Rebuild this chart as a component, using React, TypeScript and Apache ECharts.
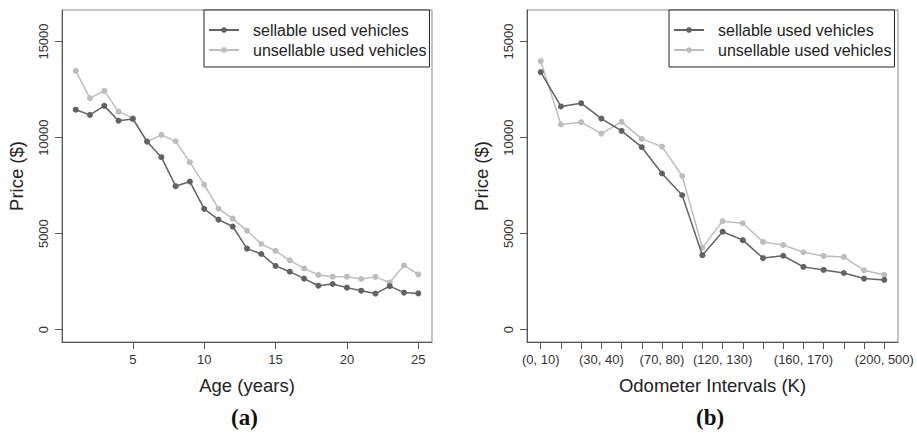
import React, { useEffect, useRef } from "react";
import * as echarts from "echarts";

const ageYears = [1, 2, 3, 4, 5, 6, 7, 8, 9, 10, 11, 12, 13, 14, 15, 16, 17, 18, 19, 20, 21, 22, 23, 24, 25];
const ageSellable = [11450, 11180, 11650, 10880, 10970, 9790, 8980, 7470, 7710, 6290, 5730, 5370, 4220, 3940, 3320, 3020, 2660, 2290, 2380, 2190, 2030, 1880, 2270, 1930, 1890];
const ageUnsellable = [13470, 12050, 12430, 11350, 11010, 9790, 10140, 9810, 8720, 7550, 6300, 5780, 5160, 4460, 4100, 3610, 3190, 2850, 2760, 2760, 2640, 2750, 2460, 3350, 2880];
const ageTicks = [5, 10, 15, 20, 25];

const odomIntervals = [
  "(0, 10)", "(10, 20)", "(20, 30)", "(30, 40)", "(40, 50)", "(50, 70)", "(70, 80)", "(80, 100)", "(100, 120)",
  "(120, 130)", "(130, 140)", "(140, 150)", "(150, 160)", "(160, 170)", "(170, 180)", "(180, 190)", "(190, 200)", "(200, 500)",
];
const odomSellable = [13410, 11620, 11790, 10990, 10350, 9500, 8130, 7000, 3880, 5100, 4660, 3730, 3850, 3270, 3110, 2950, 2660, 2590];
const odomUnsellable = [13980, 10680, 10800, 10210, 10820, 9930, 9530, 8000, 4270, 5650, 5540, 4570, 4410, 4030, 3840, 3790, 3090, 2850];
const odomLabelIdx = [0, 3, 6, 9, 13, 17];

const priceTicks = [0, 5000, 10000, 15000];
const seriesNames = ["sellable used vehicles", "unsellable used vehicles"];

const DARK = "#626262";
const LIGHT = "#bdbdbd";
const FONT = "'Liberation Sans', Arial, sans-serif";

export default function App() {
  const ref = useRef<HTMLDivElement>(null);
  useEffect(() => {
    if (!ref.current) return;
    const chart = echarts.init(ref.current, undefined, { renderer: "svg" });

    const yAxisBase = (gridIndex: number) => ({
      type: "value",
      gridIndex,
      min: -640,
      max: 16640,
      name: "Price ($)",
      nameLocation: "middle",
      nameGap: 36,
      nameTextStyle: { fontFamily: FONT, fontSize: 18.5, color: "#222" },
      splitLine: { show: false },
      axisLine: { show: true, onZero: false, lineStyle: { color: "#555", width: 1 } },
      axisTick: { show: true, inside: false, length: 7, customValues: priceTicks, lineStyle: { color: "#555" } },
      axisLabel: {
        show: true,
        customValues: priceTicks,
        formatter: (v: number) => String(v),
        rotate: 90,
        margin: 12,
        fontFamily: FONT,
        fontSize: 13,
        color: "#333",
      },
    });

    const lineSeries = (name: string, color: string, data: number[][], idx: number, z: number) => ({
      type: "line",
      name,
      xAxisIndex: idx,
      yAxisIndex: idx,
      data,
      z,
      symbol: "circle",
      symbolSize: 6,
      lineStyle: { color, width: 1.5 },
      itemStyle: { color },
      emphasis: { disabled: true },
    });

    const legendBase = (left: number) => ({
      left,
      top: 10,
      orient: "vertical",
      itemWidth: 30,
      itemHeight: 7,
      itemGap: 4,
      padding: [12, 3, 9, 4],
      borderColor: "#222",
      borderWidth: 1,
      backgroundColor: "#fff",
      data: seriesNames,
      selectedMode: false,
      textStyle: { fontFamily: FONT, fontSize: 16, color: "#222", padding: [0, 0, 0, 9] },
    });

    chart.setOption({
      animation: false,
      grid: [
        { left: 62, top: 10, width: 370, height: 332, show: true, borderColor: "#888", borderWidth: 1, backgroundColor: "transparent" },
        { left: 527, top: 10, width: 371, height: 332, show: true, borderColor: "#888", borderWidth: 1, backgroundColor: "transparent" },
      ],
      xAxis: [
        {
          type: "value",
          gridIndex: 0,
          min: 0.04,
          max: 25.96,
          name: "Age (years)",
          nameLocation: "middle",
          nameGap: 34,
          nameTextStyle: { fontFamily: FONT, fontSize: 18.5, color: "#222" },
          splitLine: { show: false },
          axisLine: { show: true, onZero: false, lineStyle: { color: "#555" } },
          axisTick: { show: true, length: 7, customValues: ageTicks, lineStyle: { color: "#555" } },
          axisLabel: { customValues: ageTicks, margin: 11, fontFamily: FONT, fontSize: 13, color: "#333" },
        },
        {
          type: "value",
          gridIndex: 1,
          min: -0.68,
          max: 17.68,
          name: "Odometer Intervals (K)",
          nameLocation: "middle",
          nameGap: 34,
          nameTextStyle: { fontFamily: FONT, fontSize: 18.5, color: "#222" },
          splitLine: { show: false },
          axisLine: { show: true, onZero: false, lineStyle: { color: "#555" } },
          axisTick: { show: true, length: 7, customValues: odomIntervals.map((_, i) => i), lineStyle: { color: "#555" } },
          axisLabel: {
            customValues: odomLabelIdx,
            formatter: (v: number) => odomIntervals[Math.round(v)] ?? "",
            margin: 11,
            fontFamily: FONT,
            fontSize: 13,
            color: "#333",
          },
        },
      ],
      yAxis: [yAxisBase(0), yAxisBase(1)],
      legend: [legendBase(204), legendBase(669)],
      series: [
        lineSeries(seriesNames[1], LIGHT, ageYears.map((x, i) => [x, ageUnsellable[i]]), 0, 2),
        lineSeries(seriesNames[0], DARK, ageYears.map((x, i) => [x, ageSellable[i]]), 0, 3),
        lineSeries(seriesNames[1], LIGHT, odomIntervals.map((_, i) => [i, odomUnsellable[i]]), 1, 2),
        lineSeries(seriesNames[0], DARK, odomIntervals.map((_, i) => [i, odomSellable[i]]), 1, 3),
      ],
      graphic: [
        { type: "text", left: 247 - 16, top: 406, style: { text: "(a)", font: "bold 23px 'Liberation Serif', 'Times New Roman', serif", fill: "#111" } },
        { type: "text", left: 712 - 16, top: 406, style: { text: "(b)", font: "bold 23px 'Liberation Serif', 'Times New Roman', serif", fill: "#111" } },
      ],
    });
    return () => chart.dispose();
  }, []);
  return <div ref={ref} style={{ width: 917, height: 436, position: "absolute", left: 0, top: 0 }} />;
}
